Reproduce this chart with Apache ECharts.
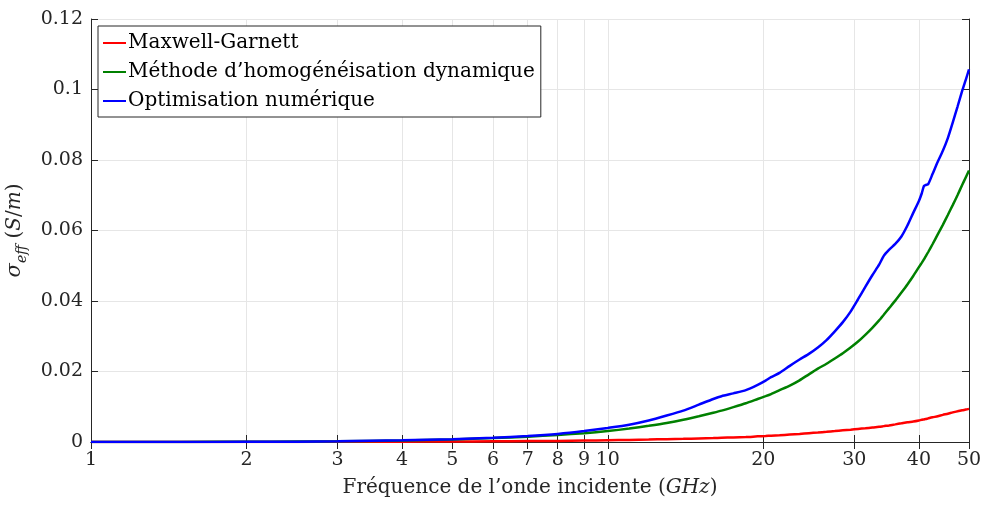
<!DOCTYPE html>
<html>
<head>
<meta charset="utf-8">
<script src="https://cdn.jsdelivr.net/npm/echarts@6/dist/echarts.min.js"></script>
<style>
  html, body { margin: 0; padding: 0; background: #fff; }
  #chart { width: 984px; height: 507px; }
</style>
</head>
<body>
<div id="chart"></div>
<script>
// frequences (GHz), valeurs
var freq = [1, 1.5, 2, 2.5, 3, 4, 5, 6, 7, 8, 9, 10, 11, 12, 13, 14, 15, 16, 16.6, 17.5,
  18.5, 19.5, 20.2, 20.7, 21.5, 22.5, 23.5, 24.5, 25.5, 26.5, 27.5, 28.5, 29.5, 30.5,
  31.5, 32.5, 33.5, 34.2, 35, 36, 37, 38, 39, 40, 40.5, 40.9, 41.2, 41.7, 42.5, 43.5,
  44.5, 45.5, 46.5, 47.5, 48.5, 49.3, 50];

var maxwell = [0, 0.00001, 0.00002, 0.00003, 0.00005, 0.0001, 0.00014, 0.0002, 0.00025, 0.0003,
  0.0004, 0.0005, 0.0006, 0.0007, 0.0008, 0.0009, 0.001, 0.0011, 0.0012, 0.0013,
  0.0014, 0.0016, 0.0017, 0.0018, 0.0019, 0.0021, 0.0023, 0.0025, 0.0027, 0.0029, 0.0031, 0.0033, 0.0035, 0.0037,
  0.0039, 0.0041, 0.0043, 0.0045, 0.0047, 0.0050, 0.0053, 0.0056, 0.0058, 0.0061, 0.0063, 0.0064, 0.0065, 0.0067, 0.0070, 0.0073,
  0.0077, 0.0080, 0.0084, 0.0087, 0.0090, 0.0092, 0.0094];

var homog = [0.00001, 0.00003, 0.00007, 0.00013, 0.0002, 0.0004, 0.0007, 0.0011, 0.0015, 0.0020,
  0.0025, 0.0031, 0.0038, 0.0046, 0.0054, 0.0063, 0.0073, 0.0083, 0.0089, 0.0099,
  0.0110, 0.0122, 0.0130, 0.0136, 0.0147, 0.0160, 0.0175, 0.0192, 0.0208, 0.0222, 0.0237, 0.0252, 0.0268, 0.0285,
  0.0304, 0.0324, 0.0345, 0.0361, 0.0379, 0.0401, 0.0424, 0.0447, 0.0471, 0.0496, 0.0508, 0.0518, 0.0526, 0.0539, 0.0561, 0.0589,
  0.0616, 0.0644, 0.0672, 0.0700, 0.0729, 0.0751, 0.0770];

var optim = [0, 0.00002, 0.00005, 0.0001, 0.0002, 0.0005, 0.0008, 0.0012, 0.0017, 0.0023,
  0.0031, 0.0040, 0.0049, 0.0061, 0.0075, 0.0089, 0.0106, 0.0122, 0.0130, 0.0138,
  0.0147, 0.0162, 0.0174, 0.0184, 0.0196, 0.0216, 0.0234, 0.0250, 0.0268, 0.0289, 0.0314, 0.0340, 0.0370, 0.0405,
  0.0440, 0.0473, 0.0503, 0.0528, 0.0545, 0.0562, 0.0583, 0.0614, 0.0650, 0.0684, 0.0705, 0.0726, 0.0729, 0.0732, 0.0760, 0.0795,
  0.0826, 0.0862, 0.0906, 0.0951, 0.0996, 0.1028, 0.1057];

var xTicks = [1, 2, 3, 4, 5, 6, 7, 8, 9, 10, 20, 30, 40, 50];
var names = ['Maxwell-Garnett', 'Méthode d’homogénéisation dynamique', 'Optimisation numérique'];

function pairs(ys) {
  return freq.map(function (f, i) { return [f, ys[i]]; });
}

var font = 'DejaVu Serif';
var axisCol = '#262626';
var gridCol = '#e6e6e6';

var chart = echarts.init(document.getElementById('chart'));

var option = {
  animation: false,
  backgroundColor: '#fff',
  grid: { left: 91, right: 15, top: 19, bottom: 65, outerBoundsMode: 'none', containLabel: false },
  legend: {
    left: 98, top: 26,
    orient: 'vertical',
    padding: [5, 6, 4, 5],
    itemGap: 5,
    itemWidth: 23, itemHeight: 2,
    icon: 'rect',
    borderColor: axisCol, borderWidth: 1,
    backgroundColor: '#fff',
    textStyle: { fontFamily: font, fontSize: 20, color: '#000', lineHeight: 24, padding: [0, 0, 0, -3] },
    data: names
  },
  xAxis: [{
    type: 'log', logBase: 10, min: 1, max: 50,
    name: '{n|Fréquence de l’onde incidente (}{i|GHz}{n|)}',
    nameLocation: 'middle', nameGap: 36,
    nameTextStyle: {
      rich: {
        n: { fontFamily: font, fontSize: 20, color: axisCol },
        i: { fontFamily: font, fontSize: 20, fontStyle: 'italic', color: axisCol }
      }
    },
    axisLine: { lineStyle: { color: axisCol, width: 1 } },
    axisTick: { inside: true, length: 7, customValues: xTicks, lineStyle: { color: axisCol } },
    axisLabel: { customValues: xTicks, fontFamily: font, fontSize: 19, color: axisCol, margin: 9, hideOverlap: false },
    splitLine: { show: true, lineStyle: { color: gridCol, width: 1 } },
    minorTick: { show: false }
  }, {
    type: 'log', logBase: 10, min: 1, max: 50, position: 'top',
    axisLine: { lineStyle: { color: axisCol, width: 1 } },
    axisTick: { inside: true, length: 7, customValues: xTicks, lineStyle: { color: axisCol } },
    axisLabel: { show: false },
    splitLine: { show: false }
  }],
  yAxis: [{
    type: 'value', min: 0, max: 0.12, interval: 0.02,
    name: '{s|σ}{sub|eff}{n| (}{i|S}{n|/}{i|m}{n|)}',
    nameLocation: 'middle', nameGap: 54,
    nameTextStyle: {
      rich: {
        s: { fontFamily: font, fontSize: 21, fontStyle: 'italic', color: axisCol, verticalAlign: 'bottom', padding: [0, 0, 5, 0] },
        sub: { fontFamily: font, fontSize: 14, fontStyle: 'italic', color: axisCol, verticalAlign: 'bottom' },
        n: { fontFamily: font, fontSize: 20, color: axisCol, verticalAlign: 'bottom', padding: [0, 0, 5, 0] },
        i: { fontFamily: font, fontSize: 20, fontStyle: 'italic', color: axisCol, verticalAlign: 'bottom', padding: [0, 0, 5, 0] }
      }
    },
    axisLine: { show: true, lineStyle: { color: axisCol, width: 1 } },
    axisTick: { show: true, inside: true, length: 7, lineStyle: { color: axisCol } },
    axisLabel: { fontFamily: font, fontSize: 19, color: axisCol, margin: 8 },
    splitLine: { show: true, lineStyle: { color: gridCol, width: 1 } }
  }, {
    type: 'value', min: 0, max: 0.12, interval: 0.02, position: 'right',
    axisLine: { show: true, lineStyle: { color: axisCol, width: 1 } },
    axisTick: { show: true, inside: true, length: 7, lineStyle: { color: axisCol } },
    axisLabel: { show: false },
    splitLine: { show: false }
  }],
  series: [{
    name: names[0], type: 'line', data: pairs(maxwell),
    symbol: 'none', smooth: 0.2, color: '#ff0000',
    lineStyle: { color: '#ff0000', width: 2.5 }, z: 3
  }, {
    name: names[1], type: 'line', data: pairs(homog),
    symbol: 'none', smooth: 0.2, color: '#008000',
    lineStyle: { color: '#008000', width: 2.5 }, z: 4
  }, {
    name: names[2], type: 'line', data: pairs(optim),
    symbol: 'none', smooth: 0.2, color: '#0000ff',
    lineStyle: { color: '#0000ff', width: 2.5 }, z: 5
  }]
};

chart.setOption(option);
</script>
</body>
</html>
